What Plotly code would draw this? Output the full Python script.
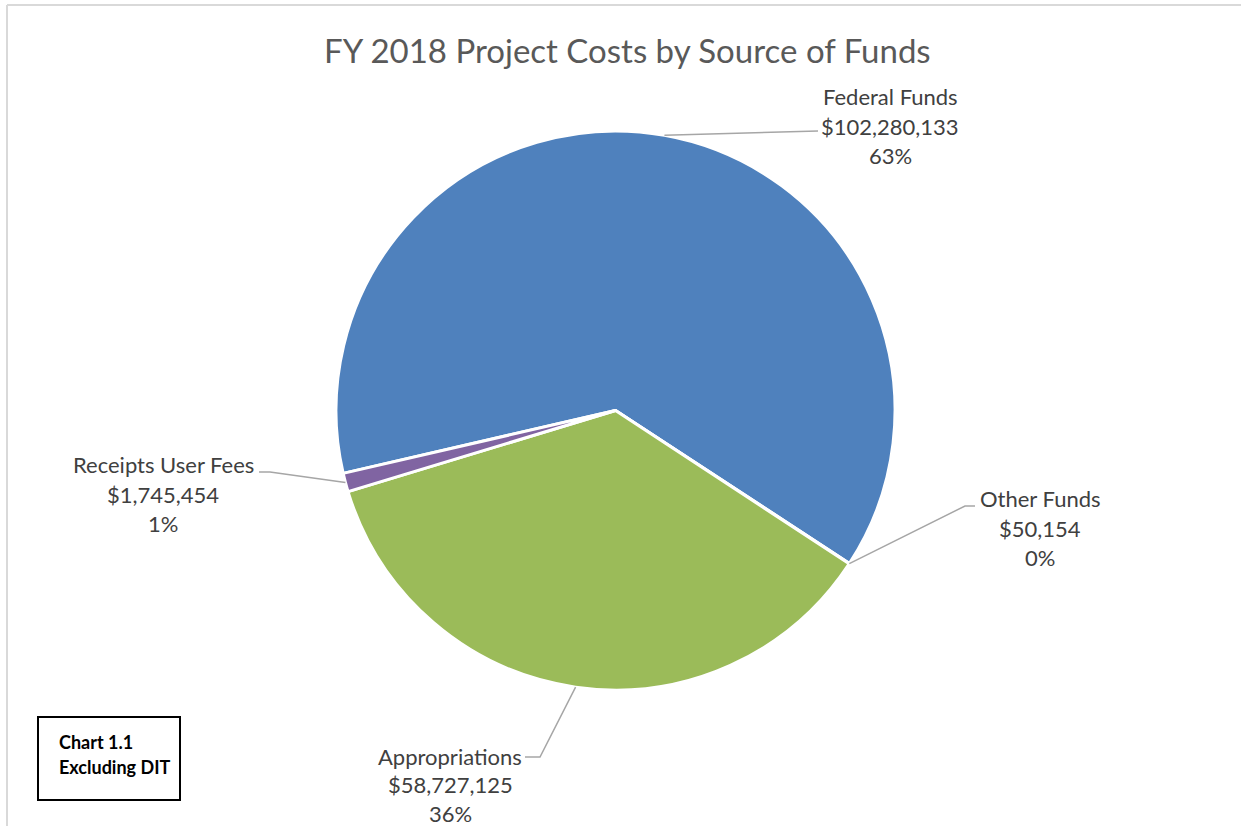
import math
import plotly.graph_objects as go

W, H = 1241, 826

categories = ["Federal Funds", "Other Funds", "Appropriations", "Receipts User Fees"]
values = [102280133, 50154, 58727125, 1745454]
colors = ["#4F81BD", "#C0504D", "#9BBB59", "#8064A2"]
title_text = "FY 2018 Project Costs by Source of Funds"

# pie geometry (pixels)
CX, CY, R = 615.5, 410.5, 279.5
ROT = 257

def px(x):
    return x / W

def py(y):
    return 1 - y / H

fig = go.Figure()
fig.add_trace(go.Pie(
    labels=categories, values=values, sort=False, direction="clockwise",
    rotation=ROT, marker=dict(colors=colors, line=dict(color="white", width=3)),
    textinfo="none", hoverinfo="label+value+percent", showlegend=False,
    domain=dict(x=[px(CX - R), px(CX + R)], y=[py(CY + R), py(CY - R)]),
))

# mid-angles of slices (clockwise from 12 o'clock) to anchor leader lines
total = sum(values)
anchors = {}
acc = ROT
for c, v in zip(categories, values):
    span = 360 * v / total
    mid = math.radians(acc + span / 2)
    anchors[c] = (CX + R * math.sin(mid), CY - R * math.cos(mid))
    acc += span

# label placement: (center x, middle line y, line spacing), leader elbow points
label_pos = {
    "Federal Funds": (890, 126, 29.5, [(818, 131)]),
    "Other Funds": (1040, 528, 29.5, [(965, 506), (975, 506)]),
    "Receipts User Fees": (163, 494, 29.5, [(270, 472), (259, 472)]),
    "Appropriations": (450, 784.5, 28.5, [(540, 757), (525, 757)]),
}

annotations = []
shapes = []
for c, v in zip(categories, values):
    lx, ly, sp, elbows = label_pos[c]
    pct = f"{round(100 * v / total)}%"
    lines = [c, f"${v:,}", pct]
    for i, t in enumerate(lines):
        annotations.append(dict(
            x=px(lx), y=py(ly + (i - 1) * sp), xref="paper", yref="paper",
            text=t, showarrow=False, xanchor="center", yanchor="middle",
            font=dict(family="Lato", size=22, color="#404040"),
        ))
    ax, ay = anchors[c]
    pts = [(ax, ay)] + elbows
    path = "M " + " L ".join(f"{px(x)},{py(y)}" for x, y in pts)
    shapes.append(dict(type="path", path=path, xref="paper", yref="paper",
                       line=dict(color="#A6A6A6", width=1.5)))

# title
annotations.append(dict(
    x=px(627), y=py(50), xref="paper", yref="paper", text=title_text,
    showarrow=False, xanchor="center", yanchor="middle",
    font=dict(family="Lato", size=33, color="#595959"),
))

# chart area border (top and left edges visible)
shapes.append(dict(type="line", xref="paper", yref="paper",
                   x0=px(7), y0=py(5), x1=1, y1=py(5),
                   line=dict(color="#D9D9D9", width=2)))
shapes.append(dict(type="line", xref="paper", yref="paper",
                   x0=px(7), y0=py(5), x1=px(7), y1=0,
                   line=dict(color="#D9D9D9", width=2)))

# Chart note box
shapes.append(dict(type="rect", xref="paper", yref="paper",
                   x0=px(38), y0=py(800), x1=px(180), y1=py(717),
                   line=dict(color="black", width=2), fillcolor="white"))
for i, t in enumerate(["Chart 1.1", "Excluding DIT"]):
    annotations.append(dict(
        x=px(57), y=py(742 + i * 25), xref="paper", yref="paper",
        text=f"<b>{t}</b>", showarrow=False,
        xanchor="left", yanchor="middle", align="left",
        font=dict(family="Lato", size=18, color="black"),
    ))

fig.update_layout(
    width=W, height=H, margin=dict(l=0, r=0, t=0, b=0),
    paper_bgcolor="white", plot_bgcolor="white",
    annotations=annotations, shapes=shapes,
)

fig.write_html("out.html", config={"displayModeBar": False},
               post_script="document.body.style.margin='0px';")
